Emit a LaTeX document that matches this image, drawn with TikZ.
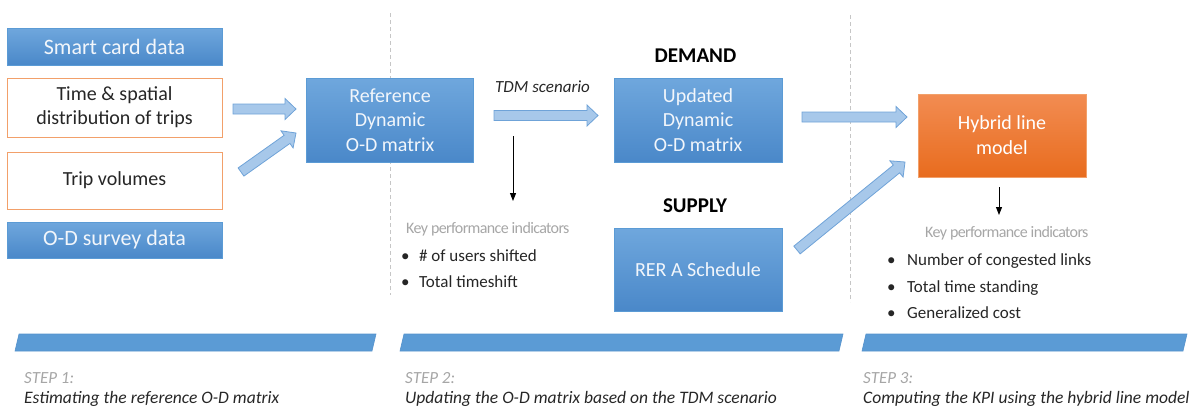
\documentclass[tikz,border=0pt]{standalone}
\usepackage{fontspec}
\setmainfont{Carlito}
\usetikzlibrary{arrows.meta,calc,positioning}
\definecolor{boxtop}{HTML}{6FA7DD}
\definecolor{boxbot}{HTML}{4A88C9}
\definecolor{boxedge}{HTML}{5B9BD5}
\definecolor{hybtop}{HTML}{F28C52}
\definecolor{hybbot}{HTML}{E86C1E}
\definecolor{myorange}{HTML}{F2A06A}
\definecolor{arrfill}{HTML}{A7C8EA}
\definecolor{arrline}{HTML}{6FA3D8}
\definecolor{lightgray}{HTML}{A6A6A6}
\definecolor{mytext}{HTML}{262626}
\definecolor{boxtext}{HTML}{F2F6FB}
\definecolor{barblue}{HTML}{5B9BD5}
\definecolor{baredge}{HTML}{5592CC}

% block arrow between two named points (shaft 10pt, head 21pt x 11pt)
\newcommand{\fatarrow}[2]{%
  \draw[fatarr] ($(#1)!5pt!90:(#2)$)
    -- ($(#2)!11pt!(#1)!5pt!90:(#2)$)
    -- ($(#2)!11pt!(#1)!10.5pt!90:(#2)$)
    -- (#2)
    -- ($(#2)!11pt!(#1)!10.5pt!-90:(#2)$)
    -- ($(#2)!11pt!(#1)!5pt!-90:(#2)$)
    -- ($(#1)!5pt!-90:(#2)$) -- cycle;}

\begin{document}
\begin{tikzpicture}[x=1pt, y=-1pt,
    bluebox/.style={rectangle, draw=boxedge, line width=0.6pt, top color=boxtop,
      bottom color=boxbot, text=boxtext, align=center, inner sep=0pt,
      font=\fontsize{20}{24.5}\selectfont},
    orbox/.style={rectangle, draw=myorange, line width=1pt, fill=white,
      text=mytext, align=center, inner sep=0pt, font=\fontsize{20}{24}\selectfont},
    hybbox/.style={rectangle, draw=myorange, line width=0.6pt, top color=hybtop,
      bottom color=hybbot, text=white, align=center, inner sep=0pt,
      font=\fontsize{20}{25}\selectfont},
    fatarr/.style={draw=arrline, fill=arrfill, line width=0.8pt, line join=miter},
    kpiarr/.style={-{Triangle[width=6pt,length=8pt]}, line width=1pt, black},
    kpihead/.style={anchor=base west, inner sep=0pt, text=lightgray,
      font=\fontsize{16}{19}\selectfont\addfontfeatures{LetterSpace=-4}},
    kpiitem/.style={anchor=base west, inner sep=0pt, text=mytext,
      font=\fontsize{17}{20}\selectfont},
    title/.style={anchor=base, inner sep=0pt, text=black,
      font=\fontsize{21}{25}\selectfont\bfseries},
    section/.style={dashed, dash pattern=on 4pt off 3pt, line width=1pt, gray!45},
    bar/.style={fill=barblue, draw=baredge, line width=0.6pt}]

  \useasboundingbox (0,0) rectangle (1197,408);

  % Section separators
  \draw[section] (390,13) -- (390,295);
  \draw[section] (850,15) -- (850,302);

  % --- Step 1: input data
  \node[bluebox, minimum width=215, minimum height=37,
    font=\fontsize{22}{26}\selectfont] (smart) at (114.5,46.5) {Smart card data};
  \node[orbox, minimum width=215, minimum height=59] (spatial) at (114.5,107.5)
    {Time \& spatial\\distribution of trips};
  \node[orbox, minimum width=215, minimum height=57] (volumes) at (114.5,180.5)
    {Trip volumes};
  \node[bluebox, minimum width=215, minimum height=36,
    font=\fontsize{22}{26}\selectfont] (survey) at (114.5,240) {O-D survey data};

  \node[bluebox, minimum width=167, minimum height=84] (refmat) at (390,120)
    {Reference\\Dynamic\\O-D matrix};

  \coordinate (a1s) at (233,109);
  \coordinate (a1e) at (296,109);
  \coordinate (a2s) at (241,172);
  \coordinate (a2e) at (296,133);
  \fatarrow{a1s}{a1e}
  \fatarrow{a2s}{a2e}

  % --- Step 2: demand and supply
  \node[title] (demand) at (695.5,62) {DEMAND};
  \node[bluebox, minimum width=168, minimum height=84] (updmat) at (698,120)
    {Updated\\Dynamic\\O-D matrix};
  \node[title] (supply) at (695,212) {SUPPLY};
  \node[bluebox, minimum width=168, minimum height=83] (rer) at (698,269.5)
    {RER A Schedule};

  \node[anchor=base west, inner sep=0pt, text=mytext,
    font=\fontsize{17}{20}\selectfont\itshape] (tdm) at (495,92) {TDM scenario};
  \coordinate (a3s) at (494,115.5);
  \coordinate (a3e) at (598,115.5);
  \fatarrow{a3s}{a3e}

  \coordinate (k1s) at (513,136);
  \coordinate (k1e) at (513,201);
  \draw[kpiarr] (k1s) -- (k1e);
  \node[kpihead] (kpi1) at (406,233) {Key performance indicators};
  \node[kpiitem] (users) at (401,261.5) {\makebox[18pt][l]{\textbullet}\# of users shifted};
  \node[kpiitem] (shift) at (401,287.5) {\makebox[18pt][l]{\textbullet}Total timeshift};

  % --- Step 3: hybrid line model
  \node[hybbox, minimum width=168, minimum height=83] (hybrid) at (1002,135.5)
    {Hybrid line\\model};
  \coordinate (a4s) at (802,117);
  \coordinate (a4e) at (907,117);
  \coordinate (a5s) at (797,250);
  \coordinate (a5e) at (905,162);
  \fatarrow{a4s}{a4e}
  \fatarrow{a5s}{a5e}

  \coordinate (k2s) at (999,187);
  \coordinate (k2e) at (999,215);
  \draw[kpiarr] (k2s) -- (k2e);
  \node[kpihead] (kpi2) at (925,237) {Key performance indicators};
  \node[kpiitem] (links) at (887,265.5) {\makebox[20pt][l]{\textbullet}Number of congested links};
  \node[kpiitem] (standing) at (887,292.5) {\makebox[20pt][l]{\textbullet}Total time standing};
  \node[kpiitem] (gencost) at (887,318.5) {\makebox[20pt][l]{\textbullet}Generalized cost};

  % Step bars and captions
  \foreach \a/\b in {15/372, 400/839, 862/1183}
    \draw[bar] (\a,351) -- ++(4,-17) -- (\b+4,334) -- (\b,351) -- cycle;

  \foreach \n/\x/\t in {1/24/{Estimating the reference O-D matrix},
      2/405/{Updating the O-D matrix based on the TDM scenario},
      3/863/{Computing the KPI using the hybrid line model}} {
    \node[anchor=base west, inner sep=0pt, text=lightgray,
      font=\fontsize{17}{20}\selectfont\itshape] (step\n) at (\x,383) {STEP \n:};
    \node[anchor=base west, inner sep=0pt, text=mytext,
      font=\fontsize{17.5}{20}\selectfont\itshape] (desc\n) at (\x,403) {\t};
  }
\end{tikzpicture}
\end{document}
